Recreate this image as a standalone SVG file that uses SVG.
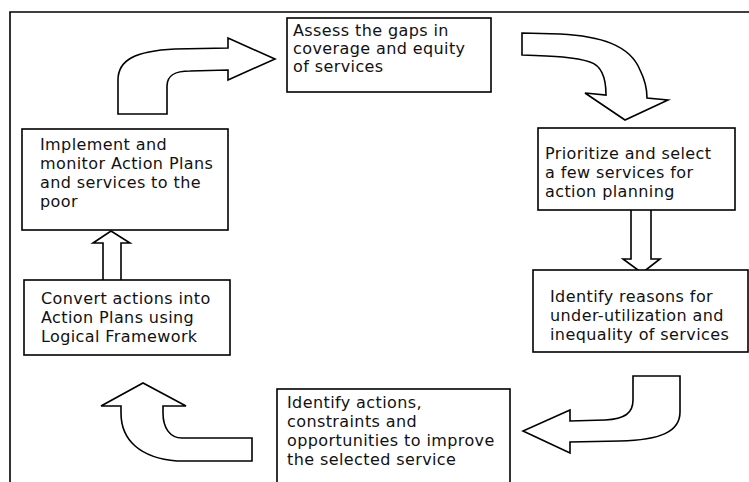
<svg xmlns="http://www.w3.org/2000/svg" width="749" height="482" viewBox="0 0 749 482">
<style>
.box{fill:#fff;stroke:#000;stroke-width:1.6}
.arr{fill:#fff;stroke:#000;stroke-width:1.6;stroke-linejoin:miter}
.frame{fill:none;stroke:#000;stroke-width:1.6}
text{font-family:"DejaVu Sans",Verdana,sans-serif;font-size:16px;letter-spacing:0.4px;fill:#111}
</style>
<rect width="749" height="482" fill="#fff"/>
<path class="frame" d="M10,482 V12 H749"/>
<g id="connectors">
<path class="arr" d="M118,114 V80 C118,60 135,51 175,49 L228,48 V38 L275,59 L228,80 V70 L190,71 C175,71 167,75 167,86 V114 Z"/>
<path class="arr" d="M522,33 L560,34 C600,36 630,45 640,70 C645,80 647,90 647,98 L668,100 L625,120 L585,93 L606,95 C606,80 603,66 590,62 C575,57 555,56 522,55 Z"/>
<path class="arr" d="M631,210 V259 H623 L642,273 L660,259 H651 V210"/>
<path class="arr" d="M633,376 H680 V412 C680,432 660,440 620,441 L570,442 V453 L523,431 L570,410 V421 L605,420 C625,419 633,413 633,400 Z"/>
<path class="arr" d="M252,438 V461 H177 C140,458 121,440 121,413 V406 H101 L143,383 L186,406 H163 V413 C163,428 170,438 182,438 Z"/>
<path class="arr" d="M103,280 V243 H93 L111,231 L130,243 H121 V280"/>
</g>
<g id="n1">
<rect class="box" x="287" y="18" width="204" height="74"/>
<text x="293" y="36">Assess the gaps in</text>
<text x="293" y="54">coverage and equity</text>
<text x="293" y="72">of services</text>
</g>
<g id="n2">
<rect class="box" x="538" y="128" width="197" height="82"/>
<text x="545" y="159">Prioritize and select</text>
<text x="545" y="178">a few services for</text>
<text x="545" y="197">action planning</text>
</g>
<g id="n3">
<rect class="box" x="533" y="270" width="215" height="82"/>
<text x="550" y="302">Identify reasons for</text>
<text x="550" y="321">under-utilization and</text>
<text x="550" y="340">inequality of services</text>
</g>
<g id="n4">
<rect class="box" x="277" y="389" width="233" height="100"/>
<text x="287" y="408">Identify actions,</text>
<text x="287" y="427">constraints and</text>
<text x="287" y="446">opportunities to improve</text>
<text x="287" y="465">the selected service</text>
</g>
<g id="n5">
<rect class="box" x="24" y="280" width="206" height="75"/>
<text x="41" y="304">Convert actions into</text>
<text x="41" y="323">Action Plans using</text>
<text x="41" y="342">Logical Framework</text>
</g>
<g id="n6">
<rect class="box" x="22" y="129" width="206" height="101"/>
<text x="40" y="150">Implement and</text>
<text x="40" y="169">monitor Action Plans</text>
<text x="40" y="188">and services to the</text>
<text x="40" y="207">poor</text>
</g>
</svg>
